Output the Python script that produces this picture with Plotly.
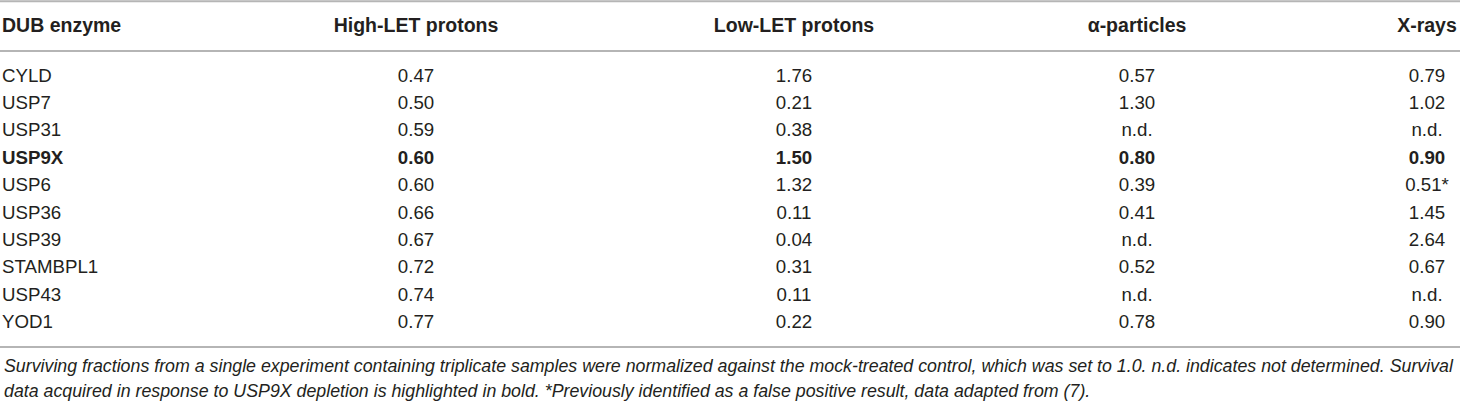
import plotly.graph_objects as go

# table content
headers = ["DUB enzyme", "High-LET protons", "Low-LET protons", "α-particles", "X-rays"]
enzymes = ["CYLD", "USP7", "USP31", "USP9X", "USP6", "USP36", "USP39", "STAMBPL1", "USP43", "YOD1"]
high_let = [0.47, 0.50, 0.59, 0.60, 0.60, 0.66, 0.67, 0.72, 0.74, 0.77]
low_let = [1.76, 0.21, 0.38, 1.50, 1.32, 0.11, 0.04, 0.31, 0.11, 0.22]
alpha = [0.57, 1.30, None, 0.80, 0.39, 0.41, None, 0.52, None, 0.78]
xrays = [0.79, 1.02, None, 0.90, 0.51, 1.45, 2.64, 0.67, None, 0.90]
flagged = {("X-rays", "USP6")}   # false positive, marked with *
bold_row = "USP9X"
footnote = [
    "Surviving fractions from a single experiment containing triplicate samples were normalized against the "
    "mock-treated control, which was set to 1.0. n.d. indicates not determined. Survival",
    "data acquired in response to USP9X depletion is highlighted in bold. *Previously identified as a false "
    "positive result, data adapted from (7).",
]

W, H = 1460, 404
FONT = "Liberation Sans, Arial, Helvetica, sans-serif"
TXT = "#231f20"
RULE = "#b5b5b5"
BODY_SIZE = 18.7
HEAD_SIZE = 19.5
NOTE_SIZE = 17.8

col_x = [2, 416, 794, 1137, 1427]
header_y = 27
row_y0, row_step = 77, 27.4
rows_y = [row_y0 + i * row_step for i in range(len(enzymes))]


def fmt(v, col, name):
    s = "n.d." if v is None else f"{v:.2f}"
    if (col, name) in flagged:
        s += "*"
    if name == bold_row:
        s = f"<b>{s}</b>"
    return s


fig = go.Figure()

# header row
fig.add_trace(go.Scatter(
    x=col_x, y=[header_y] * len(headers), mode="text",
    text=[f"<b>{h}</b>" for h in headers],
    textposition=["middle right"] + ["middle center"] * 4,
    textfont=dict(family=FONT, size=HEAD_SIZE, color=TXT),
    hoverinfo="skip", showlegend=False, cliponaxis=False,
))

# first column (left aligned)
fig.add_trace(go.Scatter(
    x=[col_x[0]] * len(enzymes), y=rows_y, mode="text",
    text=[f"<b>{e}</b>" if e == bold_row else e for e in enzymes],
    textposition="middle right",
    textfont=dict(family=FONT, size=BODY_SIZE, color=TXT),
    hoverinfo="skip", showlegend=False, cliponaxis=False,
))

# value columns (centered)
for cx, col, vals in zip(col_x[1:], headers[1:], [high_let, low_let, alpha, xrays]):
    fig.add_trace(go.Scatter(
        x=[cx] * len(vals), y=rows_y, mode="text",
        text=[fmt(v, col, e) for v, e in zip(vals, enzymes)],
        textposition="middle center",
        textfont=dict(family=FONT, size=BODY_SIZE, color=TXT),
        hoverinfo="skip", showlegend=False, cliponaxis=False,
    ))

# horizontal rules: top, under header, bottom
for yy in [1.2, 51, 347]:
    fig.add_shape(type="line", xref="paper", x0=0, x1=1, yref="y", y0=yy, y1=yy,
                  line=dict(color=RULE, width=2))

# footnote
for i, line in enumerate(footnote):
    fig.add_annotation(
        x=2, y=366 + i * 24.5, xref="x", yref="y", xanchor="left", yanchor="middle",
        text=line, showarrow=False,
        font=dict(family=FONT, size=NOTE_SIZE, color=TXT, style="italic"),
    )

fig.update_layout(
    width=W, height=H,
    margin=dict(l=0, r=0, t=0, b=0),
    paper_bgcolor="white", plot_bgcolor="white",
    xaxis=dict(range=[0, W], visible=False, fixedrange=True),
    yaxis=dict(range=[H, 0], visible=False, fixedrange=True),
)

# drop the default 8px page margin so the figure sits flush in the window
fig.write_html("out.html", config={"displayModeBar": False},
               post_script="document.body.style.margin='0';")
